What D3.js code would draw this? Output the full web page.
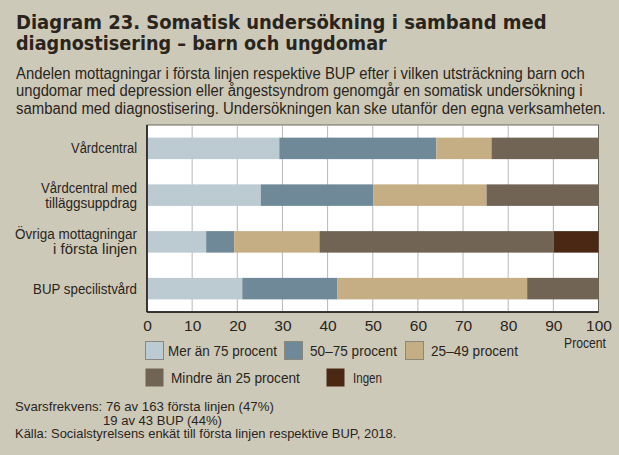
<!DOCTYPE html>
<html><head><meta charset="utf-8">
<script src="https://cdn.jsdelivr.net/npm/d3@7"></script>
<style>
html,body{margin:0;padding:0;background:#cdc9b9;}
svg{display:block;}
</style></head>
<body>
<script>
const categories = ["Vårdcentral", "Vårdcentral med|tilläggsuppdrag", "Övriga mottagningar|i första linjen", "BUP specilistvård"];
const seriesNames = ["Mer än 75 procent", "50–75 procent", "25–49 procent", "Mindre än 25 procent", "Ingen"];
const merAn75   = [29.3, 25.2, 13.1, 21.1];
const p50to75   = [34.8, 24.9, 6.2, 21.0];
const p25to49   = [12.2, 25.1, 18.9, 42.1];
const mindreAn25= [23.7, 24.8, 51.9, 15.8];
const ingen     = [0, 0, 9.9, 0];
const xTicks = [0,10,20,30,40,50,60,70,80,90,100];
const colors = ["#bccbd1", "#6f8998", "#c5ae84", "#716454", "#4a2814"];

const W = 619, H = 455;
const svg = d3.select("body").append("svg").attr("width", W).attr("height", H);
svg.append("rect").attr("width", W).attr("height", H).attr("fill", "#cdc9b9");

const font = "'Liberation Sans',Arial,sans-serif";
const ink = "#2a251c";

// place a text and squeeze it horizontally to a target width
function fitText(t, x, y, target, opts) {
  const o = Object.assign({size:15, family:font, weight:"normal", anchor:"start"}, opts||{});
  const el = svg.append("text").attr("x",0).attr("y",0)
    .attr("font-family",o.family).attr("font-size",o.size).attr("font-weight",o.weight)
    .attr("fill",ink).attr("text-anchor",o.anchor).text(t);
  const L = el.node().getComputedTextLength();
  const k = target ? target / L : 1;
  el.attr("transform",`translate(${x},${y}) scale(${k},1)`);
  return el;
}

// Title
fitText("Diagram 23. Somatisk undersökning i samband med", 16, 28.5, 531, {size:20, family:"'DejaVu Sans',sans-serif", weight:"bold"});
fitText("diagnostisering – barn och ungdomar", 16, 50, 371, {size:20, family:"'DejaVu Sans',sans-serif", weight:"bold"});
const sub = ["Andelen mottagningar i första linjen respektive BUP efter i vilken utsträckning barn och",
 "ungdomar med depression eller ångestsyndrom genomgår en somatisk undersökning i",
 "samband med diagnostisering. Undersökningen kan ske utanför den egna verksamheten."];
const subLen = [569, 567, 590];
sub.forEach((t,i)=> fitText(t, 16, 78.5 + i*17.5, subLen[i], {size:16}));

// Scales
const x = d3.scaleLinear().domain([0,100]).range([147, 598.5]);
const y = d3.scaleBand().domain(categories).range([125, 312]).paddingInner(0.54).paddingOuter(0.27);

// Plot area
svg.append("rect").attr("x",x(0)).attr("y",125).attr("width",x(100)-x(0)).attr("height",187)
  .attr("fill","#fff").attr("stroke","#6b665c").attr("stroke-width",1);

// gridlines
svg.append("g").selectAll("line").data(xTicks.slice(1,-1)).join("line")
  .attr("x1",d=>x(d)).attr("x2",d=>x(d)).attr("y1",125).attr("y2",312)
  .attr("stroke","#b8b8b8").attr("stroke-width",1);

// Stack
const rows = categories.map((c,i)=>({cat:c, s0:merAn75[i], s1:p50to75[i], s2:p25to49[i], s3:mindreAn25[i], s4:ingen[i]}));
const stack = d3.stack().keys(["s0","s1","s2","s3","s4"])(rows);
svg.append("g").selectAll("g").data(stack).join("g").attr("fill",(d,i)=>colors[i])
  .selectAll("rect").data(d=>d).join("rect")
  .attr("x",d=>x(d[0])).attr("width",d=>Math.max(0,x(d[1])-x(d[0])))
  .attr("y",d=>y(d.data.cat)).attr("height",y.bandwidth());

// axes lines
svg.append("line").attr("x1",x(0)).attr("x2",x(0)).attr("y1",125).attr("y2",312).attr("stroke","#111").attr("stroke-width",1.5);
svg.append("line").attr("x1",x(0)).attr("x2",x(100)).attr("y1",312).attr("y2",312).attr("stroke","#111").attr("stroke-width",1.5);

// x axis
const xAxis = svg.append("g").attr("transform","translate(0,312)")
  .call(d3.axisBottom(x).tickValues(xTicks).tickSize(0).tickPadding(8).tickFormat(d3.format("d")));
xAxis.select(".domain").remove();
xAxis.selectAll("text").attr("font-family",font).attr("font-size",15.5).attr("fill",ink);
fitText("Procent", 585, 348, 42, {size:15, anchor:"middle"});

// y labels
const labelW = {"Vårdcentral":66, "Vårdcentral med":96, "tilläggsuppdrag":92, "Övriga mottagningar":122, "i första linjen":84, "BUP specilistvård":104};
categories.forEach(c=>{
  const lines = c.split("|");
  const cy = y(c) + y.bandwidth()/2;
  const lh = 15;
  lines.forEach((l,j)=>{
    fitText(l, 137, cy + (j-(lines.length-1)/2)*lh + 5, labelW[l], {size:14.5, anchor:"end"});
  });
});

// legend
const legendPos = [[145,341,168,109],[284,341,310,87],[405,341,431,87],[145,368,171,129],[326,368,353,29]];
seriesNames.forEach((n,i)=>{
  const [sx,sy,tx,tw] = legendPos[i];
  svg.append("rect").attr("x",sx+0.5).attr("y",sy+0.5).attr("width",18).attr("height",18)
    .attr("fill",colors[i]).attr("stroke", i<3 ? "#8a877c" : "none");
  fitText(n, tx, sy+14.5, tw, {size:15.5});
});

// footnotes
fitText("Svarsfrekvens: 76 av 163 första linjen (47%)", 15, 411, 259, {size:12.5});
fitText("19 av 43 BUP (44%)", 103, 424.5, 119, {size:12.5});
fitText("Källa: Socialstyrelsens enkät till första linjen respektive BUP, 2018.", 15, 438, 382, {size:12.5});
</script>
</body></html>
